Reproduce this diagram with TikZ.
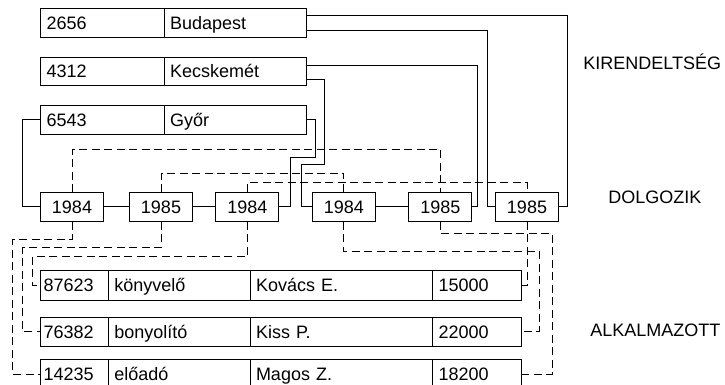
\documentclass[tikz,border=0pt]{standalone}
\usepackage{fontspec}
\setmainfont{Liberation Sans}
\usetikzlibrary{calc}

\begin{document}
\begin{tikzpicture}[x=1pt,y=-1pt,line width=0.9pt,
    cella/.style={draw,outer sep=0pt,inner xsep=6pt,inner ysep=0pt,
      minimum height=28.5pt,text height=12.8pt,text depth=0pt,
      text width=#1,align=left,font=\fontsize{18}{20}\selectfont},
    evbox/.style={draw,outer sep=0pt,inner sep=0pt,minimum width=63pt,
      minimum height=29.5pt,text height=12.8pt,text depth=0pt,
      font=\fontsize{18}{20}\selectfont},
    cimke/.style={anchor=base west,inner sep=0pt,
      font=\fontsize{18}{20}\selectfont},
    szagg/.style={dash pattern=on 8pt off 4.5pt}]
  \useasboundingbox (0,0) rectangle (725,385);
  \clip (0,0) rectangle (725,385);

  % KIRENDELTSEG records
  \node[cella=111.3pt] (kir1) at (102.35,23.15) {2656};
  \node[cella=130pt,anchor=west] (kir1n) at (kir1.east) {Budapest};
  \node[cella=111.3pt] (kir2) at (102.35,71.35) {4312};
  \node[cella=130pt,anchor=west] (kir2n) at (kir2.east) {Kecskemét};
  \node[cella=111.3pt] (kir3) at (102.35,119.85) {6543};
  \node[cella=130pt,anchor=west] (kir3n) at (kir3.east) {Győr};

  % DOLGOZIK records
  \node[evbox] (dol1) at (72,206.85) {1984};
  \node[evbox] (dol2) at (161,206.85) {1985};
  \node[evbox] (dol3) at (247.35,206.85) {1984};
  \node[evbox] (dol4) at (343.85,206.85) {1984};
  \node[evbox] (dol5) at (440.35,206.85) {1985};
  \node[evbox] (dol6) at (527,206.85) {1985};

  % ALKALMAZOTT records
  \node[cella=61.6pt,inner xsep=3pt,anchor=west,minimum height=29.5pt]
        (alk1) at (40.7,285.5) {87623};
  \node[cella=129.7pt,anchor=west,minimum height=29.5pt] (alk1a) at (alk1.east) {könyvelő};
  \node[cella=170.7pt,anchor=west,minimum height=29.5pt] (alk1b) at (alk1a.east) {Kovács E.};
  \node[cella=77pt,anchor=west,minimum height=29.5pt] (alk1c) at (alk1b.east) {15000};
  \node[cella=61.6pt,inner xsep=3pt,anchor=west,minimum height=29.5pt]
        (alk2) at (40.7,331.7) {76382};
  \node[cella=129.7pt,anchor=west,minimum height=29.5pt] (alk2a) at (alk2.east) {bonyolító};
  \node[cella=170.7pt,anchor=west,minimum height=29.5pt] (alk2b) at (alk2a.east) {Kiss P.};
  \node[cella=77pt,anchor=west,minimum height=29.5pt] (alk2c) at (alk2b.east) {22000};
  \node[cella=61.6pt,inner xsep=3pt,anchor=west,minimum height=29.5pt]
        (alk3) at (40.7,374.5) {14235};
  \node[cella=129.7pt,anchor=west,minimum height=29.5pt] (alk3a) at (alk3.east) {előadó};
  \node[cella=170.7pt,anchor=west,minimum height=29.5pt] (alk3b) at (alk3a.east) {Magos Z.};
  \node[cella=77pt,anchor=west,minimum height=29.5pt] (alk3c) at (alk3b.east) {18200};

  % set names
  \node[cimke] (kirlbl) at (583,69.5) {KIRENDELTSÉG};
  \node[cimke] (dollbl) at (608,203.5) {DOLGOZIK};
  \node[cimke] (alklbl) at (590,336.5) {ALKALMAZOTT};

  % owner rings (solid)
  \draw ($(kir1n.east)+(0,-7.8)$) -- ++(261,0) |- (dol6.east);
  \draw ($(kir1n.east)+(0,6.9)$) -- ++(181,0) |- (dol6.west);
  \draw ($(kir2n.east)+(0,-6.3)$) -- ++(171,0) |- (dol5.east);
  \draw ($(kir2n.east)+(0,7.7)$) -- ++(18,0) |- ++(-23,85) |- (dol4.west);
  \draw (kir3n.east) -- ++(9,0) |- ++(-25,37.5) |- (dol3.east);
  \draw (kir3.west) -- ++(-18,0) |- (dol1.west);
  \draw (dol1) -- (dol2);
  \draw (dol2) -- (dol3);
  \draw (dol4) -- (dol5);

  % member rings (dashed)
  \draw[szagg] (dol1.north) -- ++(0,-43) -| (dol5.north);
  \draw[szagg] (dol2.north) -- ++(0,-19) -| (dol4.north);
  \draw[szagg] (dol3.north) -- ++(0,-9.5) -| (dol6.north);
  \draw[szagg] (dol1.south) -- ++(0,17.5) -- ++(-59.3,0) |- (alk3.west);
  \draw[szagg] (dol2.south) -- ++(0,26) -- ++(-138.3,0) |- (alk2.west);
  \draw[szagg] (dol3.south) -- ++(0,35) -- ++(-214.65,0) |- (alk1.west);
  \draw[szagg] (dol4.south) -- ++(0,29.4) -- ++(195.15,0) |- (alk2c.east);
  \draw[szagg] (dol5.south) -- ++(0,11.4) -- ++(111.65,0) |- (alk3c.east);
  \draw[szagg] (dol6.south) |- (alk1c.east);
\end{tikzpicture}
\end{document}
